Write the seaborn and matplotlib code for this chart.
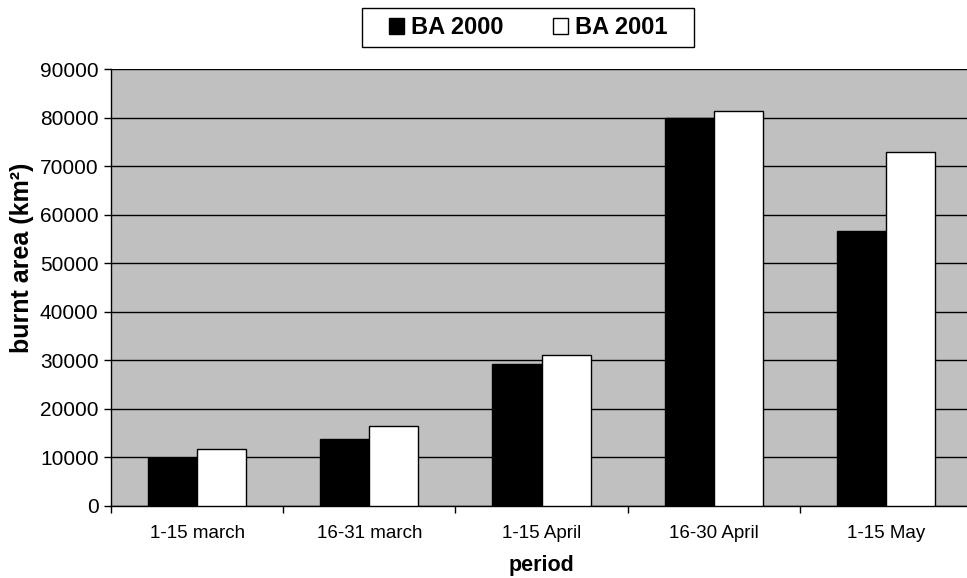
import pandas as pd
import seaborn as sns
import matplotlib.pyplot as plt
from matplotlib.patches import Rectangle

# data
periods = ["1-15 march", "16-31 march", "1-15 April", "16-30 April", "1-15 May"]
ba_2000 = [9900, 13850, 29300, 80000, 56700]
ba_2001 = [11750, 16400, 31050, 81300, 73000]
series = ["BA 2000", "BA 2001"]

df = pd.DataFrame({
    "period": periods * 2,
    "area": ba_2000 + ba_2001,
    "series": [series[0]] * len(periods) + [series[1]] * len(periods),
})

sns.set_style("white")
plt.rcParams["font.family"] = ["Liberation Sans", "DejaVu Sans"]
plt.rcParams["text.color"] = "black"
plt.rcParams["axes.labelcolor"] = "black"
plt.rcParams["xtick.color"] = "black"
plt.rcParams["ytick.color"] = "black"

W, H = 967, 578
fig = plt.figure(figsize=(W / 100, H / 100), dpi=100)
ax = fig.add_axes([0.1148, 0.1246, 0.8904, 0.756])
ax.set_facecolor("#C0C0C0")

sns.barplot(data=df, x="period", y="area", hue="series", order=periods,
            hue_order=series, palette=["black", "white"], width=0.57,
            edgecolor="black", linewidth=1, saturation=1, ax=ax, zorder=3)

# y axis
ax.set_ylim(0, 90000)
ax.set_yticks(range(0, 90001, 10000))
ax.yaxis.grid(True, color="black", linewidth=1, zorder=0)
ax.set_axisbelow(True)
ax.tick_params(axis="y", direction="out", length=5, width=1,
               labelsize=15, pad=4, left=True)

# x axis: ticks between categories, labels at centres
ax.set_xlim(-0.5, len(periods) - 0.5)
ax.set_xticks([i - 0.5 for i in range(len(periods) + 1)])
ax.set_xticklabels([])
ax.set_xticks(range(len(periods)), minor=True)
ax.set_xticklabels(periods, minor=True)
ax.tick_params(axis="x", which="major", direction="out", length=5, width=1,
               bottom=True)
ax.tick_params(axis="x", which="minor", length=0, labelsize=13.5, pad=14)

for s in ["top", "right"]:
    ax.spines[s].set_visible(False)
for s in ["left", "bottom"]:
    ax.spines[s].set_color("black")
    ax.spines[s].set_linewidth(1)

ax.set_xlabel("period", fontsize=15.5, fontweight="bold", labelpad=9)
ax.set_ylabel("burnt area (km²)", fontsize=18, fontweight="bold")
ax.yaxis.set_label_coords((34 - 111) / 861, (506 - 258) / 437)

# legend without its own frame, box drawn separately
leg = ax.legend(loc="center", bbox_to_anchor=(528.5 / W, 1 - 27.5 / H),
                bbox_transform=fig.transFigure, ncol=2, frameon=False,
                handlelength=0.64, handleheight=0.64, handletextpad=0.3,
                columnspacing=2.1, borderpad=0.2,
                prop={"size": 17, "weight": "bold"})
fig.patches.append(Rectangle((362 / W, 1 - 47 / H), 332 / W, 39 / H,
                             transform=fig.transFigure, fill=False,
                             edgecolor="black", linewidth=1))

fig.savefig("out.png", dpi=100)
